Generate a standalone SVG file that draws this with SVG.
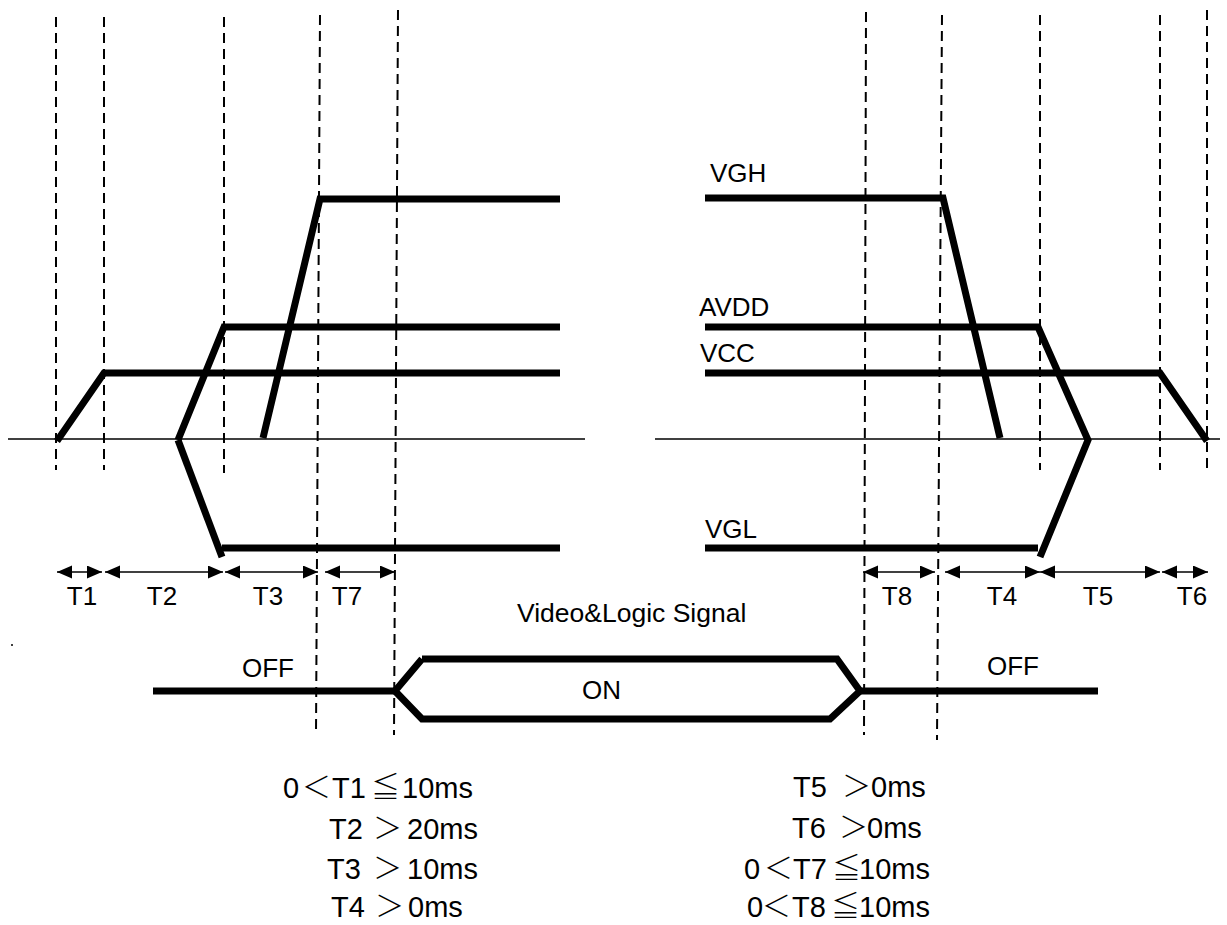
<svg xmlns="http://www.w3.org/2000/svg" width="1227" height="925" viewBox="0 0 1227 925">
<defs>
<style>
.sig{fill:none;stroke:#000;stroke-width:7;stroke-linejoin:miter;stroke-linecap:butt}
.base{stroke:#000;stroke-width:1.5;fill:none}
.dash{stroke:#000;stroke-width:2;stroke-dasharray:10 6;fill:none}
.arr{stroke:#000;stroke-width:1.5;fill:none;marker-start:url(#ah);marker-end:url(#ah)}
text{font-family:"Liberation Sans","Noto Sans CJK SC",Arial,sans-serif;fill:#000}
.lbl{font-size:26px}
.tl{font-size:26px;text-anchor:middle}
.cond{font-size:29px}
.cjk{font-family:"Noto Sans CJK SC",sans-serif;font-weight:300}
</style>
<marker id="ah" markerUnits="userSpaceOnUse" markerWidth="16" markerHeight="14" refX="15" refY="6.5" orient="auto-start-reverse">
<path d="M0,0 L15,6.5 L0,13 z" fill="#000"/>
</marker>
</defs>
<rect width="1227" height="925" fill="#fff"/>
<g id="connectors">
<line class="base" x1="8" y1="439" x2="585" y2="439"/>
<line class="base" x1="655" y1="439" x2="1220" y2="439"/>
<line class="dash" x1="56" y1="17" x2="56" y2="470"/>
<line class="dash" x1="104" y1="17" x2="104" y2="470"/>
<line class="dash" x1="224" y1="17" x2="224" y2="473"/>
<line class="dash" x1="320" y1="15" x2="316" y2="735"/>
<line class="dash" x1="398" y1="10" x2="394" y2="735"/>
<line class="dash" x1="866" y1="12" x2="864" y2="735"/>
<line class="dash" x1="942" y1="15" x2="937" y2="740"/>
<line class="dash" x1="1040" y1="15" x2="1040" y2="470"/>
<line class="dash" x1="1160" y1="15" x2="1160" y2="470"/>
<line class="dash" x1="1207" y1="10" x2="1207" y2="470"/>
<line class="arr" x1="57" y1="572" x2="102" y2="572"/>
<line class="arr" x1="105" y1="572" x2="223" y2="572"/>
<line class="arr" x1="225" y1="572" x2="318" y2="572"/>
<line class="arr" x1="325" y1="572" x2="395" y2="572"/>
<line class="arr" x1="863" y1="572" x2="935" y2="572"/>
<line class="arr" x1="945" y1="572" x2="1040" y2="572"/>
<line class="arr" x1="1040" y1="572" x2="1160" y2="572"/>
<line class="arr" x1="1162" y1="572" x2="1208" y2="572"/>
</g>
<g id="VGH">
<polyline class="sig" points="263,438 320,199 560,199"/>
<polyline class="sig" points="705,198 943,198 1000,438"/>
<text class="lbl" x="710" y="182">VGH</text>
</g>
<g id="AVDD">
<polyline class="sig" points="178,440 224,327 560,327"/>
<polyline class="sig" points="705,327 1038,327 1088,440 1040,557"/>
<text class="lbl" x="699" y="316">AVDD</text>
</g>
<g id="VCC">
<polyline class="sig" points="57,441 104,373 560,373"/>
<polyline class="sig" points="705,373 1160,373 1207,441"/>
<text class="lbl" x="700" y="362">VCC</text>
</g>
<g id="VGL">
<line class="sig" x1="178" y1="440" x2="222" y2="557"/>
<line class="sig" x1="222" y1="548" x2="560" y2="548"/>
<line class="sig" x1="705" y1="548" x2="1038" y2="548"/>
<text class="lbl" x="705" y="538">VGL</text>
</g>
<g id="labels">
<text class="tl" x="82" y="605">T1</text>
<text class="tl" x="162" y="605">T2</text>
<text class="tl" x="268" y="605">T3</text>
<text class="tl" x="347" y="605">T7</text>
<text class="tl" x="897" y="605">T8</text>
<text class="tl" x="1002" y="605">T4</text>
<text class="tl" x="1098" y="605">T5</text>
<text class="tl" x="1192" y="605">T6</text>
</g>
<g id="signal">
<text class="lbl" x="517" y="622" style="font-size:26.5px">Video&amp;Logic Signal</text>
<line class="sig" x1="153" y1="691" x2="395" y2="691"/>
<polyline class="sig" points="422,659 395,691 422,719 830,719 860,691 837,659 422,659"/>
<line class="sig" x1="860" y1="691" x2="1098" y2="691"/>
<text class="lbl" x="582" y="699">ON</text>
<text class="lbl" x="242" y="677">OFF</text>
<text class="lbl" x="987" y="675">OFF</text>
<circle cx="12" cy="645" r="1" fill="#000"/>
</g>
<g id="conditions">
<text class="cond" y="798"><tspan x="283">0</tspan><tspan class="cjk" x="302">＜</tspan><tspan x="332">T1</tspan><tspan class="cjk" x="371">≦</tspan><tspan x="402">10ms</tspan></text>
<text class="cond" y="839"><tspan x="329">T2</tspan><tspan class="cjk" x="373">＞</tspan><tspan x="407">20ms</tspan></text>
<text class="cond" y="879"><tspan x="327">T3</tspan><tspan class="cjk" x="373">＞</tspan><tspan x="407">10ms</tspan></text>
<text class="cond" y="917"><tspan x="331">T4</tspan><tspan class="cjk" x="375">＞</tspan><tspan x="408">0ms</tspan></text>
<text class="cond" y="797"><tspan x="793">T5</tspan><tspan class="cjk" x="842">＞</tspan><tspan x="871">0ms</tspan></text>
<text class="cond" y="838"><tspan x="792">T6</tspan><tspan class="cjk" x="839">＞</tspan><tspan x="867">0ms</tspan></text>
<text class="cond" y="879"><tspan x="744">0</tspan><tspan class="cjk" x="764">＜</tspan><tspan x="793">T7</tspan><tspan class="cjk" x="832">≦</tspan><tspan x="859">10ms</tspan></text>
<text class="cond" y="917"><tspan x="747">0</tspan><tspan class="cjk" x="762">＜</tspan><tspan x="792">T8</tspan><tspan class="cjk" x="831">≦</tspan><tspan x="859">10ms</tspan></text>
</g>
</svg>
